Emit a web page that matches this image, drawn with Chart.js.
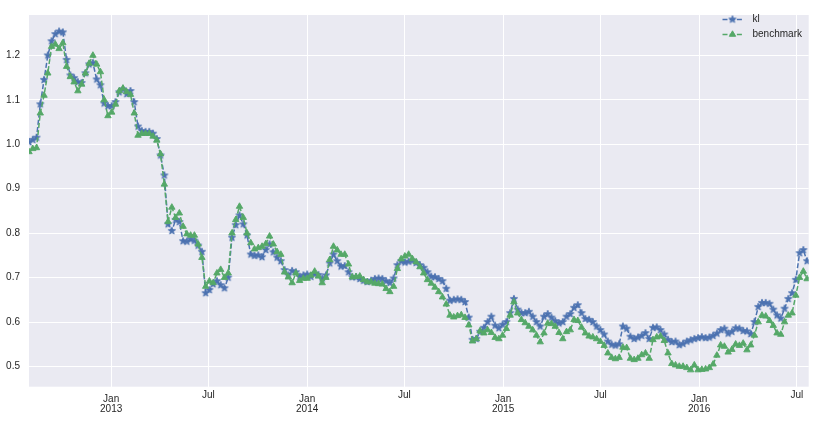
<!DOCTYPE html>
<html>
<head>
<meta charset="utf-8">
<script src="https://cdn.jsdelivr.net/npm/chart.js@4/dist/chart.umd.min.js"></script>
<style>
  html, body { margin: 0; padding: 0; background: #ffffff; }
  #wrap { width: 816px; height: 421px; }
</style>
</head>
<body>
<div id="wrap"><canvas id="c" width="816" height="421"></canvas></div>
<script>
// ---- data (weekly observations starting 2012-08-01) ----
const startDate = '2012-08-01';
const axisStart = '2012-08-01';
const axisEnd = '2016-07-23';
const seriesNames = ['kl', 'benchmark'];

const kl = [
  1.005, 1.010, 1.015, 1.090, 1.145, 1.200, 1.232, 1.248, 1.254, 1.252,
  1.190, 1.155, 1.149, 1.140, 1.138, 1.160, 1.180, 1.183, 1.146, 1.133,
  1.092, 1.086, 1.086, 1.095, 1.117, 1.124, 1.113, 1.120, 1.095, 1.040,
  1.030, 1.028, 1.028, 1.024, 1.012, 0.975, 0.930, 0.820, 0.805, 0.830,
  0.825, 0.782, 0.781, 0.786, 0.783, 0.772, 0.758, 0.665, 0.672, 0.685,
  0.692, 0.683, 0.676, 0.700, 0.790, 0.818, 0.840, 0.820, 0.795, 0.752,
  0.749, 0.750, 0.746, 0.762, 0.775, 0.757, 0.745, 0.737, 0.717, 0.705,
  0.715, 0.712, 0.702, 0.705, 0.707, 0.702, 0.708, 0.706, 0.698, 0.705,
  0.732, 0.752, 0.737, 0.725, 0.726, 0.712, 0.701, 0.701, 0.697, 0.693,
  0.690, 0.693, 0.697, 0.698, 0.697, 0.692, 0.688, 0.698, 0.728, 0.737,
  0.734, 0.736, 0.738, 0.733, 0.728, 0.722, 0.712, 0.702, 0.701, 0.697,
  0.692, 0.675, 0.648, 0.650, 0.651, 0.650, 0.645, 0.610, 0.560, 0.562,
  0.578, 0.587, 0.600, 0.612, 0.592, 0.586, 0.594, 0.600, 0.620, 0.652,
  0.628, 0.620, 0.620, 0.623, 0.612, 0.600, 0.590, 0.612, 0.618, 0.610,
  0.602, 0.597, 0.600, 0.612, 0.618, 0.632, 0.638, 0.620, 0.607, 0.605,
  0.600, 0.590, 0.582, 0.572, 0.556, 0.549, 0.547, 0.550, 0.590, 0.585,
  0.567, 0.562, 0.565, 0.569, 0.575, 0.562, 0.587, 0.588, 0.582, 0.572,
  0.560, 0.555, 0.556, 0.548, 0.551, 0.556, 0.559, 0.562, 0.564, 0.566,
  0.564, 0.565, 0.569, 0.574, 0.582, 0.585, 0.574, 0.578, 0.586, 0.585,
  0.580, 0.579, 0.573, 0.600, 0.634, 0.643, 0.643, 0.641, 0.628, 0.615,
  0.608, 0.630, 0.652, 0.665, 0.695, 0.755, 0.762, 0.737
];

const benchmark = [
  0.983, 0.990, 0.992, 1.070, 1.110, 1.160, 1.220, 1.225, 1.215, 1.228,
  1.175, 1.152, 1.140, 1.120, 1.135, 1.160, 1.182, 1.200, 1.180, 1.163,
  1.100, 1.064, 1.072, 1.090, 1.120, 1.126, 1.118, 1.112, 1.070, 1.020,
  1.024, 1.024, 1.024, 1.018, 1.009, 0.978, 0.910, 0.826, 0.858, 0.835,
  0.845, 0.815, 0.798, 0.795, 0.795, 0.775, 0.745, 0.680, 0.692, 0.688,
  0.710, 0.718, 0.700, 0.710, 0.800, 0.830, 0.860, 0.835, 0.800, 0.778,
  0.764, 0.767, 0.770, 0.776, 0.793, 0.775, 0.758, 0.752, 0.712, 0.701,
  0.688, 0.710, 0.693, 0.698, 0.698, 0.705, 0.714, 0.703, 0.688, 0.700,
  0.740, 0.770, 0.762, 0.752, 0.752, 0.730, 0.701, 0.702, 0.703, 0.695,
  0.690, 0.690, 0.687, 0.686, 0.685, 0.675, 0.668, 0.680, 0.720, 0.742,
  0.748, 0.752, 0.742, 0.735, 0.724, 0.710, 0.695, 0.687, 0.678, 0.668,
  0.656, 0.640, 0.615, 0.611, 0.614, 0.616, 0.610, 0.593, 0.557, 0.562,
  0.580, 0.575, 0.582, 0.576, 0.565, 0.562, 0.570, 0.585, 0.615, 0.645,
  0.620, 0.605, 0.598, 0.590, 0.582, 0.570, 0.555, 0.575, 0.597, 0.596,
  0.590, 0.576, 0.562, 0.578, 0.582, 0.605, 0.603, 0.588, 0.575, 0.568,
  0.566, 0.562, 0.556, 0.547, 0.530, 0.520, 0.517, 0.520, 0.543, 0.542,
  0.518, 0.515, 0.518, 0.526, 0.530, 0.518, 0.560, 0.566, 0.568, 0.558,
  0.530, 0.506, 0.503, 0.500, 0.500, 0.497, 0.492, 0.503, 0.492, 0.493,
  0.494, 0.497, 0.505, 0.525, 0.548, 0.545, 0.532, 0.538, 0.550, 0.547,
  0.552, 0.537, 0.548, 0.570, 0.600, 0.615, 0.613, 0.603, 0.592, 0.575,
  0.572, 0.600, 0.615, 0.620, 0.660, 0.700, 0.714, 0.697
];

const xTickDates = ['2013-01-01','2013-07-01','2014-01-01','2014-07-01','2015-01-01','2015-07-01','2016-01-01','2016-07-01'];
const xTickLabels = [['Jan','2013'],'Jul',['Jan','2014'],'Jul',['Jan','2015'],'Jul',['Jan','2016'],'Jul'];
const yTicks = [0.5, 0.6, 0.7, 0.8, 0.9, 1.0, 1.1, 1.2];
const yMin = 0.4544, yMax = 1.291;

// ---- helpers ----
const DAY = 86400000;
function dayOf(s) { return (Date.parse(s + 'T00:00:00Z') - Date.parse(axisStart + 'T00:00:00Z')) / DAY; }
const firstDay = dayOf(startDate);
const xDays = kl.map((_, i) => firstDay + 7 * i);
const xTickDays = xTickDates.map(dayOf);

const BLUE = '#4C72B0', GREEN = '#55A868', TEXT = '#262626';
const FONT = "'Liberation Sans', Arial, Helvetica, sans-serif";

function makeStar(color, R, r) {
  const s = 12;
  const c = document.createElement('canvas');
  c.width = s; c.height = s;
  const g = c.getContext('2d');
  g.translate(s / 2, s / 2);
  g.beginPath();
  for (let k = 0; k < 10; k++) {
    const rad = (k % 2 === 0) ? R : r;
    const a = -Math.PI / 2 + k * Math.PI / 5;
    g.lineTo(rad * Math.cos(a), rad * Math.sin(a));
  }
  g.closePath();
  g.fillStyle = color; g.fill();
  g.strokeStyle = color; g.lineWidth = 0.9; g.stroke();
  return c;
}
const starImg = makeStar(BLUE, 3.8, 1.6);

function drawTriangle(g, x, y, r, color) {
  g.beginPath();
  for (let k = 0; k < 3; k++) {
    const a = k * 2 * Math.PI / 3;
    g.lineTo(x + Math.sin(a) * r, y - Math.cos(a) * r);
  }
  g.closePath();
  g.fillStyle = color; g.fill();
  g.strokeStyle = color; g.lineWidth = 0.9; g.stroke();
}

const bgPlugin = {
  id: 'bg',
  beforeDraw(chart) {
    const g = chart.ctx, a = chart.chartArea;
    g.save();
    g.fillStyle = '#ffffff';
    g.fillRect(0, 0, chart.width, chart.height);
    g.fillStyle = '#EAEAF2';
    g.fillRect(a.left, a.top, a.right - a.left, a.bottom - a.top);
    g.restore();
  }
};

const legendPlugin = {
  id: 'mplLegend',
  afterDraw(chart) {
    const g = chart.ctx;
    const x0 = 722.5, len = 20, textX = 752.5;
    const rows = [19.5, 34.5];
    chart.data.datasets.forEach((ds, i) => {
      const y = rows[i];
      g.save();
      g.strokeStyle = ds.borderColor;
      g.lineWidth = ds.borderWidth;
      g.setLineDash(ds.borderDash);
      g.beginPath();
      g.moveTo(x0, y); g.lineTo(x0 + len, y);
      g.stroke();
      g.setLineDash([]);
      const cx = x0 + len / 2;
      if (i === 0) g.drawImage(starImg, cx - starImg.width / 2, y - starImg.height / 2);
      else drawTriangle(g, cx, y, 3.7, GREEN);
      g.fillStyle = TEXT;
      g.font = '10px ' + FONT;
      g.textAlign = 'left';
      g.textBaseline = 'middle';
      g.fillText(ds.label, textX, y);
      g.restore();
    });
  }
};

new Chart(document.getElementById('c'), {
  type: 'line',
  data: {
    datasets: [
      {
        label: seriesNames[0],
        data: xDays.map((d, i) => ({ x: d, y: kl[i] })),
        borderColor: BLUE, backgroundColor: BLUE,
        borderWidth: 1.5, borderDash: [5, 2.2],
        pointStyle: starImg, pointRadius: 3.5,
        fill: false, tension: 0, order: 1
      },
      {
        label: seriesNames[1],
        data: xDays.map((d, i) => ({ x: d, y: benchmark[i] })),
        borderColor: GREEN, backgroundColor: GREEN,
        borderWidth: 1.5, borderDash: [5, 2.2],
        pointStyle: 'triangle', pointRadius: 3.7, pointBorderWidth: 0.9,
        fill: false, tension: 0, order: 0
      }
    ]
  },
  options: {
    responsive: false,
    animation: false,
    devicePixelRatio: 1,
    events: [],
    layout: { padding: { top: 7, right: 7.3, left: 0, bottom: 0 } },
    plugins: { legend: { display: false }, tooltip: { enabled: false } },
    scales: {
      x: {
        type: 'linear',
        min: 0,
        max: dayOf(axisEnd),
        bounds: 'data',
        afterBuildTicks(s) { s.ticks = xTickDays.map(v => ({ value: v })); },
        afterFit(s) { s.height = 34.3; },
        grid: { color: '#ffffff', lineWidth: 1, drawTicks: false },
        border: { display: false },
        ticks: {
          autoSkip: false, maxRotation: 0, minRotation: 0,
          padding: 7.3,
          color: TEXT,
          font: (c) => ({ family: FONT, size: 10, lineHeight: Array.isArray(xTickLabels[c.index]) ? 1.0 : 0.3 }),
          callback: (v, i) => xTickLabels[i]
        }
      },
      y: {
        type: 'linear',
        min: yMin,
        max: yMax,
        bounds: 'data',
        afterBuildTicks(s) { s.ticks = yTicks.map(v => ({ value: v })); },
        afterFit(s) { s.width = 29; },
        grid: { color: '#ffffff', lineWidth: 1, drawTicks: false },
        border: { display: false },
        ticks: {
          padding: 9,
          color: TEXT,
          font: { family: FONT, size: 10 },
          callback: (v) => Number(v).toFixed(1)
        }
      }
    }
  },
  plugins: [bgPlugin, legendPlugin]
});
</script>
</body>
</html>
